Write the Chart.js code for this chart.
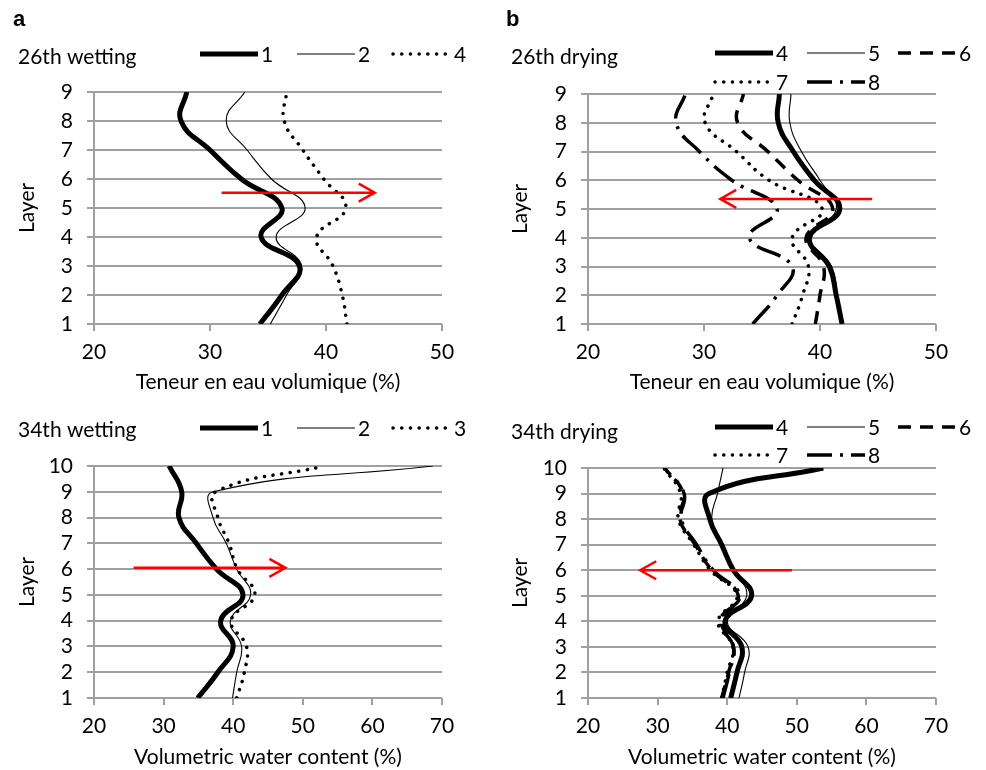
<!DOCTYPE html>
<html>
<head>
<meta charset="utf-8">
<script src="https://cdn.jsdelivr.net/npm/chart.js@4.4.1/dist/chart.umd.min.js"></script>
<style>
  body { margin: 0; background: #fff; width: 986px; height: 770px; position: relative; overflow: hidden; }
  canvas { position: absolute; }
</style>
</head>
<body>
<canvas id="chartA" width="493" height="395" style="left:0;top:0"></canvas>
<canvas id="chartB" width="493" height="395" style="left:493px;top:0"></canvas>
<canvas id="chartC" width="493" height="375" style="left:0;top:395px"></canvas>
<canvas id="chartD" width="493" height="375" style="left:493px;top:395px"></canvas>
<script>
// Layers (y axis) and x tick labels
const layers26 = [1, 2, 3, 4, 5, 6, 7, 8, 9];
const layers34 = [1, 2, 3, 4, 5, 6, 7, 8, 9, 10];
const xTicks26 = [20, 30, 40, 50];
const xTicks34 = [20, 30, 40, 50, 60, 70];

// 26th wetting (series 1, 2, 4), values from layer 1 to 9
const w26Names = ['1', '2', '4'];
const w26S1 = [34.3, 36.2, 37.7, 34.4, 36.2, 32.7, 30.0, 27.5, 28.0];
const w26S2 = [35.2, 36.6, 37.9, 35.7, 38.2, 35.3, 33.2, 31.4, 33.0];
const w26S4 = [41.8, 41.4, 40.6, 39.2, 41.7, 39.8, 38.0, 36.4, 36.6];

// 26th drying (series 4..8)
const d26Names = ['4', '5', '6', '7', '8'];
const d26S4 = [41.9, 41.4, 40.8, 39.1, 41.7, 39.5, 37.7, 36.4, 36.5];
const d26S5 = [41.8, 41.5, 41.0, 39.2, 41.4, 40.0, 38.4, 37.4, 37.5];
const d26S6 = [39.6, 40.0, 40.3, 38.8, 41.1, 38.1, 35.5, 32.9, 33.4];
const d26S7 = [37.6, 38.5, 39.0, 37.6, 40.2, 35.6, 32.8, 30.1, 30.8];
const d26S8 = [34.2, 36.3, 37.6, 33.9, 36.3, 32.4, 29.6, 27.6, 28.4];

// 34th wetting (series 1, 2, 3), layer 1 to 10
const w34Names = ['1', '2', '3'];
const w34S1 = [34.9, 37.8, 40.0, 38.2, 41.4, 37.6, 34.7, 32.2, 32.6, 30.8];
const w34S2 = [39.9, 40.5, 41.2, 39.6, 42.5, 40.5, 39.0, 37.1, 37.1, 68.7];
const w34S3 = [40.5, 41.6, 41.9, 39.7, 43.1, 40.6, 39.4, 37.8, 37.5, 53.1];

// 34th drying (series 4..8)
const d34Names = ['4', '5', '6', '7', '8'];
const d34S4 = [40.5, 41.4, 42.1, 39.7, 43.5, 40.9, 39.2, 37.5, 37.4, 53.8];
const d34S5 = [41.7, 42.5, 43.0, 40.0, 42.8, 41.0, 39.3, 37.8, 38.6, 39.4];
const d34S6 = [39.2, 40.2, 40.9, 39.2, 41.6, 37.8, 35.4, 33.2, 33.7, 31.0];
const d34S7 = [39.2, 40.0, 40.8, 38.7, 41.4, 37.6, 35.2, 33.0, 33.3, 30.9];
const d34S8 = [39.4, 40.3, 40.9, 38.9, 41.8, 38.0, 35.6, 33.4, 33.8, 31.0];

// Red arrows: layer, start and end value (a, b, c, d)
const arrowLayer = [5.53, 5.35, 6.05, 6.0];
const arrowFrom = [31.0, 44.5, 25.7, 49.3];
const arrowTo = [44.2, 31.4, 47.5, 27.5];

// Line styles
const thick = { borderWidth: 5 };
const thin = { borderWidth: 1.1 };
const dotted = { borderWidth: 3.5, borderDash: [0.1, 8.6], borderCapStyle: 'round' };
const dashed = { borderWidth: 3.5, borderDash: [13, 9] };
const dashDot = { borderWidth: 3.5, borderDash: [25, 8, 3, 8] };

const gridColor = '#a0a0a0';
const FONT = 'Lato, "Open Sans", sans-serif';
const tickFont = { family: FONT, size: 21 };

function decor(p) {
  return {
    id: 'decor',
    afterDatasetsDraw(chart) {
      const ctx = chart.ctx;
      const xs = chart.scales.x, ys = chart.scales.y;
      const y = ys.getPixelForValue(p.arrow[0]);
      const x1 = xs.getPixelForValue(p.arrow[1]);
      const x2 = xs.getPixelForValue(p.arrow[2]);
      const dir = Math.sign(x2 - x1);
      ctx.save();
      ctx.strokeStyle = '#ff0000';
      ctx.lineWidth = 2.5;
      ctx.beginPath();
      ctx.moveTo(x1, y);
      ctx.lineTo(x2, y);
      ctx.moveTo(x2 - dir * 16, y - 9);
      ctx.lineTo(x2, y);
      ctx.lineTo(x2 - dir * 16, y + 9);
      ctx.stroke();
      ctx.restore();
    },
    afterDraw(chart) {
      const ctx = chart.ctx;
      ctx.save();
      ctx.fillStyle = '#000';
      ctx.textBaseline = 'middle';
      ctx.font = 'bold 22px "Liberation Sans", Arial, sans-serif';
      ctx.fillText(p.letter, 13, 20);
      ctx.font = '21px ' + FONT;
      ctx.fillText(p.title, 18, p.titleY);
      chart.data.datasets.forEach((ds, i) => {
        const [lx, ly] = p.legendPos[i];
        ctx.save();
        ctx.strokeStyle = '#000';
        ctx.lineWidth = ds.borderWidth;
        ctx.setLineDash(ds.borderDash || []);
        ctx.lineCap = ds.borderCapStyle || 'butt';
        ctx.beginPath();
        ctx.moveTo(lx, ly);
        ctx.lineTo(lx + 58, ly);
        ctx.stroke();
        ctx.restore();
        ctx.fillText(ds.label, lx + 61, ly + 1);
      });
      ctx.restore();
    }
  };
}

function makePanel(canvasId, p) {
  const canvas = document.getElementById(canvasId);
  const W = canvas.width, H = canvas.height;
  const datasets = p.series.map((vals, i) => Object.assign({
    label: p.names[i],
    data: vals.map((v, k) => ({ x: v, y: p.layers[k] })),
    showLine: true,
    borderColor: '#000',
    backgroundColor: '#000',
    pointRadius: 0,
    tension: 0.45,
    borderJoinStyle: 'round',
    order: p.series.length - i
  }, p.styles[i]));

  return new Chart(canvas, {
    type: 'scatter',
    data: { datasets },
    options: {
      responsive: false,
      animation: false,
      events: [],
      layout: { padding: { left: 0, top: p.area.top, right: W - p.area.right, bottom: 0 } },
      plugins: { legend: { display: false }, tooltip: { enabled: false } },
      scales: {
        x: {
          type: 'linear',
          min: p.xTicks[0],
          max: p.xTicks[p.xTicks.length - 1],
          afterFit: s => { s.height = H - p.area.bottom; },
          afterBuildTicks: s => { s.ticks = p.xTicks.map(v => ({ value: v })); },
          grid: { drawOnChartArea: false, color: gridColor, lineWidth: 2, tickLength: 7 },
          border: { display: false },
          ticks: { color: '#000', font: tickFont, padding: 9, maxRotation: 0, autoSkip: false },
          title: { display: true, text: p.xTitle, color: '#000', font: tickFont, padding: { top: 0, bottom: 0 } }
        },
        y: {
          type: 'linear',
          min: 1,
          max: p.layers[p.layers.length - 1],
          afterFit: s => { s.width = p.area.left; },
          afterBuildTicks: s => { s.ticks = p.layers.map(v => ({ value: v })); },
          grid: { color: gridColor, lineWidth: 2, tickLength: 7 },
          border: { color: gridColor, width: 2 },
          ticks: { color: '#000', font: tickFont, padding: 14, autoSkip: false },
          title: { display: true, text: 'Layer', color: '#000', font: tickFont, padding: { top: 15, bottom: 0 } }
        }
      }
    },
    plugins: [decor(p)]
  });
}

makePanel('chartA', {
  letter: 'a', title: '26th wetting', titleY: 57,
  layers: layers26, xTicks: xTicks26, xTitle: 'Teneur en eau volumique (%)',
  names: w26Names, series: [w26S1, w26S2, w26S4], styles: [thick, thin, dotted],
  legendPos: [[200, 54], [297, 54], [393, 54]],
  area: { left: 94, right: 442, top: 92, bottom: 324 },
  arrow: [arrowLayer[0], arrowFrom[0], arrowTo[0]]
});

makePanel('chartB', {
  letter: 'b', title: '26th drying', titleY: 57,
  layers: layers26, xTicks: xTicks26, xTitle: 'Teneur en eau volumique (%)',
  names: d26Names, series: [d26S4, d26S5, d26S6, d26S7, d26S8],
  styles: [thick, thin, dashed, dotted, dashDot],
  legendPos: [[222, 53], [314, 53], [405, 53], [222, 82], [314, 82]],
  area: { left: 95, right: 443, top: 94, bottom: 324 },
  arrow: [arrowLayer[1], arrowFrom[1], arrowTo[1]]
});

makePanel('chartC', {
  letter: '', title: '34th wetting', titleY: 35,
  layers: layers34, xTicks: xTicks34, xTitle: 'Volumetric water content (%)',
  names: w34Names, series: [w34S1, w34S2, w34S3], styles: [thick, thin, dotted],
  legendPos: [[200, 33], [297, 33], [393, 33]],
  area: { left: 94, right: 442, top: 71, bottom: 303 },
  arrow: [arrowLayer[2], arrowFrom[2], arrowTo[2]]
});

makePanel('chartD', {
  letter: '', title: '34th drying', titleY: 37,
  layers: layers34, xTicks: xTicks34, xTitle: 'Volumetric water content (%)',
  names: d34Names, series: [d34S4, d34S5, d34S6, d34S7, d34S8],
  styles: [thick, thin, dashed, dotted, dashDot],
  legendPos: [[222, 32], [314, 32], [405, 32], [222, 60], [314, 60]],
  area: { left: 95, right: 443, top: 73, bottom: 303 },
  arrow: [arrowLayer[3], arrowFrom[3], arrowTo[3]]
});
</script>
</body>
</html>
